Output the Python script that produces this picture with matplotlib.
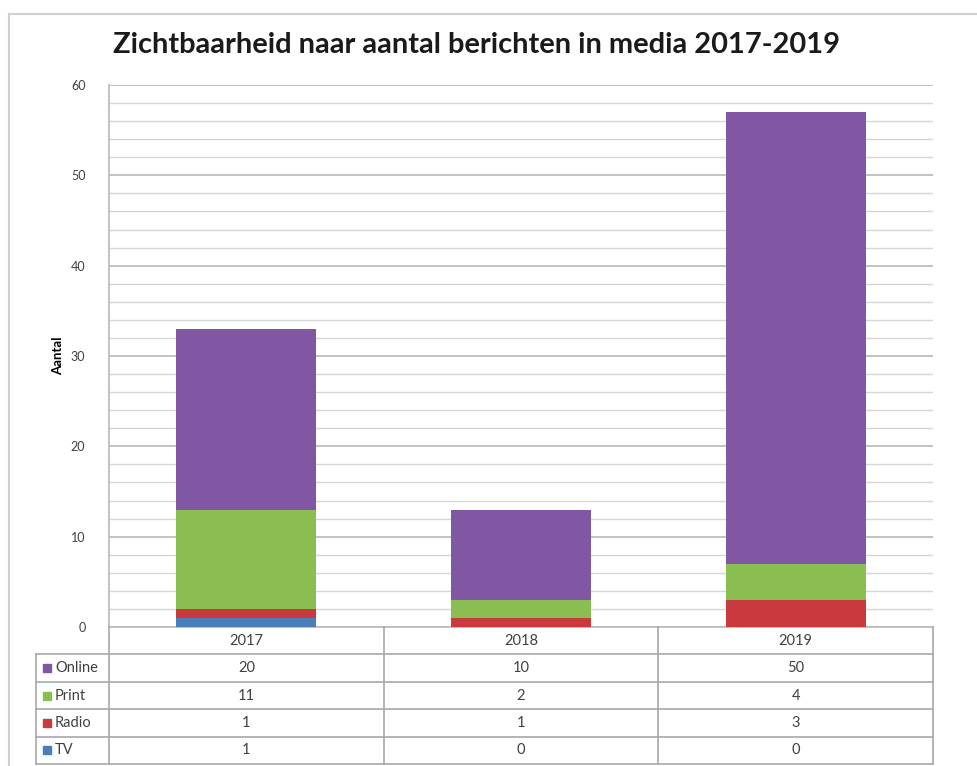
import matplotlib.pyplot as plt
import matplotlib.patches as mpatches
from matplotlib.lines import Line2D
import numpy as np

plt.rcParams["font.family"] = ["Lato", "DejaVu Sans"]

# data
years = ["2017", "2018", "2019"]
tv = [1, 0, 0]
radio = [1, 1, 3]
printed = [11, 2, 4]
online = [20, 10, 50]

series_names = ["TV", "Radio", "Print", "Online"]
series_colors = ["#4A7EBB", "#C9393E", "#8BBE50", "#8156A2"]
series_values = [tv, radio, printed, online]

W, H = 978, 766
fig = plt.figure(figsize=(W / 100, H / 100), dpi=100)
fig.patch.set_facecolor("white")

# outer chart border (only left + top visible in the crop)
fig.add_artist(Line2D([9 / W, 9 / W], [0, 1 - 14 / H], color="#D0D0D0", lw=1.5))
fig.add_artist(Line2D([9 / W, 1], [1 - 14 / H, 1 - 14 / H], color="#D0D0D0", lw=1.5))

# plot area
left, right, top, bottom = 109, 933, 85, 627
ax = fig.add_axes([left / W, 1 - bottom / H, (right - left) / W, (bottom - top) / H])

x = np.arange(len(years))
base = np.zeros(len(years))
for name, color, vals in zip(series_names, series_colors, series_values):
    ax.bar(x, vals, bottom=base, width=0.51, color=color, zorder=3)
    base += np.array(vals)

ax.set_xlim(-0.5, 2.5)
ax.set_ylim(0, 60)
ax.set_yticks(np.arange(0, 61, 10))
ax.set_yticks(np.arange(0, 61, 2), minor=True)
ax.grid(axis="y", which="major", color="#BDBDBD", lw=1.3, zorder=0)
ax.grid(axis="y", which="minor", color="#D6D6D6", lw=1.0, zorder=0)
ax.set_xticks([])
ax.tick_params(axis="y", which="both", length=0, labelsize=9, labelcolor="#404040", pad=17)
for s in ["top", "right"]:
    ax.spines[s].set_visible(False)
ax.spines["left"].set_color("#BDBDBD")
ax.spines["bottom"].set_color("#BDBDBD")
ax.spines["left"].set_linewidth(1.3)
ax.spines["bottom"].set_linewidth(1.3)

ax.set_ylabel("Aantal", fontsize=9.5, fontweight="bold", labelpad=5)

title = fig.text(477 / W, 1 - 45 / H, "Zichtbaarheid naar aantal berichten in media 2017-2019",
                 ha="center", va="center", fontsize=20, fontweight="bold", color="#1A1A1A")
# squeeze the title to the width it has in the original (Calibri is narrow)
fig.canvas.draw()
tw = title.get_window_extent().width
title.set_fontsize(20 * 727 / tw)

# data table below the axis
row_h = 27.4
line_c = "#A8A8A8"
tab_left = 36
fs_tab = 10.5
col_edges = [left + i * (right - left) / 3 for i in range(4)]
table_rows = list(zip(series_names, series_colors, series_values))[::-1]
n_rows = len(table_rows) + 1
tab_bottom = bottom + n_rows * row_h


def fy(py):
    return 1 - py / H


def fx(px):
    return px / W


# vertical lines
for cx in col_edges:
    fig.add_artist(Line2D([fx(cx), fx(cx)], [fy(bottom), fy(tab_bottom)], color=line_c, lw=1.2))
fig.add_artist(Line2D([fx(tab_left), fx(tab_left)], [fy(bottom + row_h), fy(tab_bottom)], color=line_c, lw=1.2))
# horizontal lines
for r in range(1, n_rows + 1):
    yy = bottom + r * row_h
    fig.add_artist(Line2D([fx(tab_left), fx(right)], [fy(yy), fy(yy)], color=line_c, lw=1.2))

# header
for i, yr in enumerate(years):
    cx = (col_edges[i] + col_edges[i + 1]) / 2
    fig.text(fx(cx), fy(bottom + row_h / 2), yr, ha="center", va="center", fontsize=fs_tab, color="#404040")

for r, (name, color, vals) in enumerate(table_rows):
    cy = bottom + (r + 1.5) * row_h
    fig.add_artist(mpatches.Rectangle((fx(43), fy(cy + 4)), 8 / W, 8 / H, color=color,
                                      transform=fig.transFigure))
    fig.text(fx(55), fy(cy), name, ha="left", va="center", fontsize=fs_tab, color="#404040")
    for i, v in enumerate(vals):
        cx = (col_edges[i] + col_edges[i + 1]) / 2
        fig.text(fx(cx), fy(cy), str(v), ha="center", va="center", fontsize=fs_tab, color="#404040")

fig.savefig("out.png", dpi=100)
